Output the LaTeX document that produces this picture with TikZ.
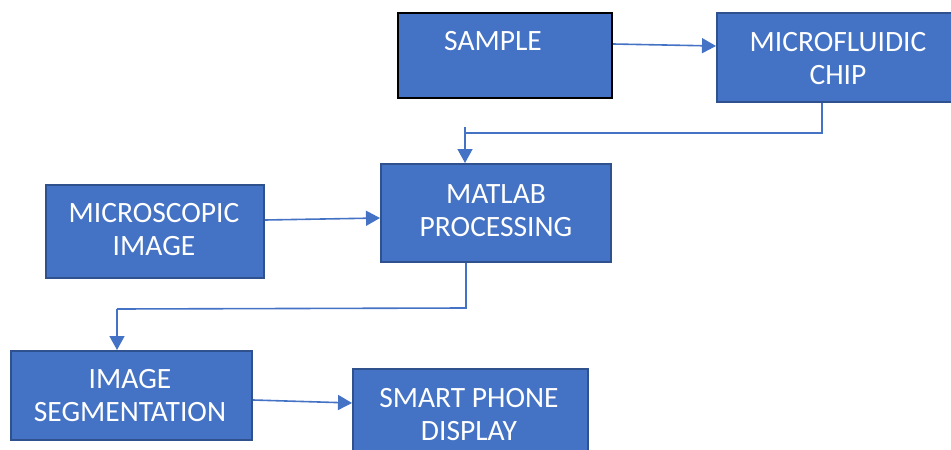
\documentclass[tikz,border=0pt]{standalone}
\usepackage{fontspec}
\setmainfont{Carlito}
\usetikzlibrary{arrows.meta}
\definecolor{boxfill}{HTML}{4472C4}
\definecolor{boxline}{HTML}{2F528F}
\definecolor{conn}{HTML}{4472C4}
\tikzset{
  box/.style={draw=boxline, fill=boxfill, line width=2pt, inner sep=0pt, anchor=north west},
  txt/.style={text=white, font=\fontsize{29.5}{33}\selectfont, align=center, inner sep=0pt},
  conline/.style={draw=conn, line width=1.6pt},
  conarrow/.style={conline, -{Triangle[length=14pt,width=15pt]}}
}
\begin{document}
\begin{tikzpicture}[x=1pt,y=-1pt]
\useasboundingbox (0,0) rectangle (951,450);
% boxes
\node[box, draw=black, minimum width=214pt, minimum height=85pt] (sample) at (397,12) {};
\node[txt] (sampletxt) at (493,41) {SAMPLE};
\node[box, minimum width=236pt, minimum height=89pt] (chip) at (716,12) {};
\node[txt] (chiptxt) at (838,59) {MICROFLUIDIC\\CHIP};
\node[box, minimum width=230pt, minimum height=98pt] (matlab) at (380,163) {};
\node[txt] (matlabtxt) at (496,211) {MATLAB\\PROCESSING};
\node[box, minimum width=218pt, minimum height=93pt] (micro) at (45,184) {};
\node[txt] (microtxt) at (154,230) {MICROSCOPIC\\IMAGE};
\node[box, minimum width=241pt, minimum height=89pt] (seg) at (10,350) {};
\node[txt] (segtxt) at (130,396) {IMAGE\\SEGMENTATION};
\node[box, minimum width=235pt, minimum height=90pt] (phone) at (352,368) {};
\node[txt] (phonetxt) at (469,415) {SMART PHONE\\DISPLAY};
% connectors
\draw[conarrow] (sample.east |- 0,44) -- (chip.west |- 0,46);
\coordinate (k1) at (822,133);
\coordinate (k2) at (465,133);
\coordinate (k0) at (465,127);
\draw[conline] (chip.south -| k1) -- (k1) -- (k2);
\draw[conarrow] (k0) -- (matlab.north -| k0);
\draw[conarrow] (micro.east |- 0,220) -- (matlab.west |- 0,218);
\coordinate (k3) at (466,308);
\coordinate (k4) at (117,309);
\draw[conline] (matlab.south -| k3) -- (k3) -- (k4);
\draw[conarrow] (k4) -- (seg.north -| k4);
\draw[conarrow] (seg.east |- 0,400) -- (phone.west |- 0,403);
\end{tikzpicture}
\end{document}
